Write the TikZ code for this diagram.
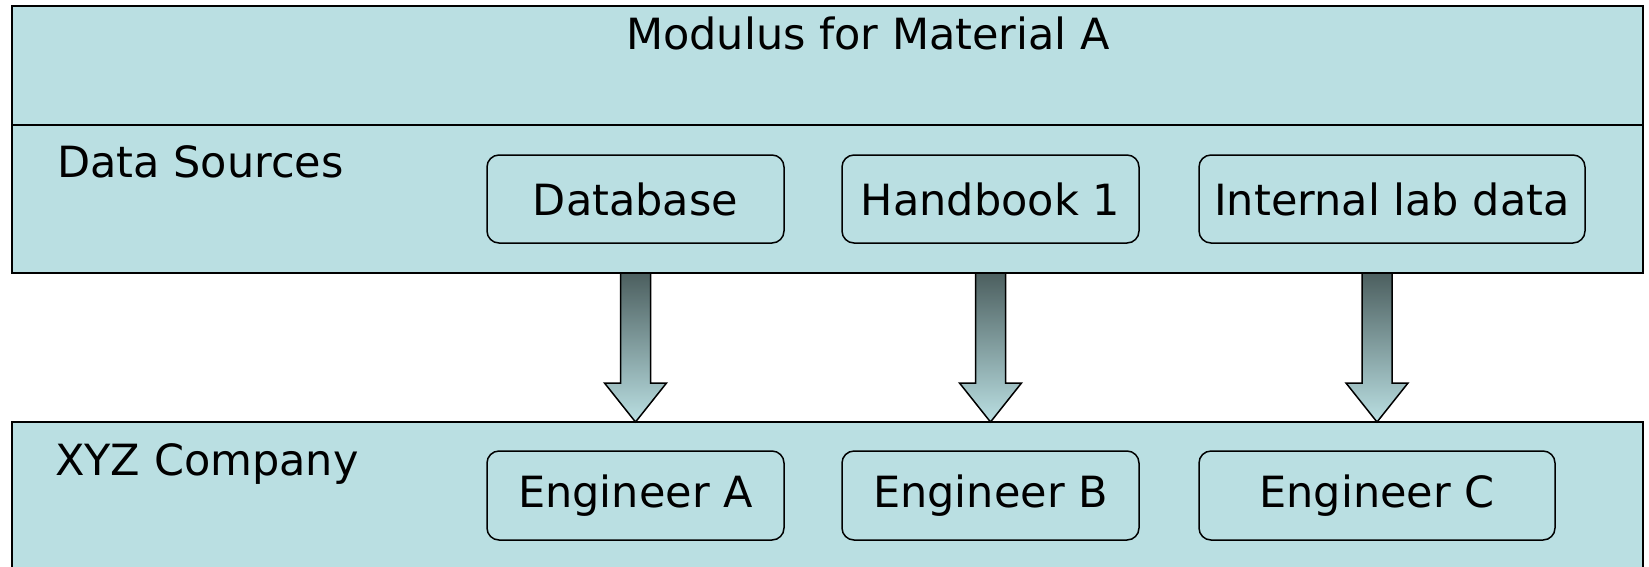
\documentclass[tikz,border=0pt]{standalone}
\usepackage{fontspec}
\setmainfont{DejaVu Sans}
\usetikzlibrary{calc}
\definecolor{panel}{HTML}{BADFE2}
\definecolor{shaftdark}{HTML}{4C5F5F}

\tikzset{
  panelbox/.style={fill=panel, draw=black, line width=2pt},
  divider/.style={draw=black, line width=1.5pt},
  itembox/.style={draw=black, fill=panel, line width=1.5pt, rounded corners=12pt,
    inner sep=0pt, font=\fontsize{43}{50}\selectfont},
  heading/.style={inner sep=0pt, anchor=base west, font=\fontsize{43}{50}\selectfont},
  title/.style={inner sep=0pt, anchor=base, font=\fontsize{43}{50}\selectfont},
  blockarrow/.style={draw=black, line width=1.5pt, top color=shaftdark, bottom color=panel}
}

% block arrow from a start coordinate straight down to a tip coordinate
\newcommand\flowarrow[2]{%
  \path[blockarrow]
    ($(#1)+(-15,0)$) -- ($(#2)+(-15,-39)$) -- ($(#2)+(-31,-39)$) -- (#2)
    -- ($(#2)+(31,-39)$) -- ($(#2)+(15,-39)$) -- ($(#1)+(15,0)$) -- cycle;}

\begin{document}
\begin{tikzpicture}[x=1pt, y=-1pt]
\useasboundingbox (0,0) rectangle (1649,566);
\fill[white] (0,0) rectangle (1649,566);

% upper panel: title band and data sources
\path[panelbox] (12,6) rectangle (1643,273);
\draw[divider] (12,125) -- (1643,125);
\node[title] (ttl) at (868,49) {Modulus for Material A};
\node[heading] (ds) at (57,177) {Data Sources};

% lower panel: company (runs off the bottom edge)
\fill[panel] (12,422) rectangle (1643,570);
\draw[line width=2pt] (12,570) -- (12,422) -- (1643,422) -- (1643,570);
\node[heading] (xyz) at (55,475) {XYZ Company};

% source boxes
\node[itembox, minimum width=297pt, minimum height=88pt] (db) at (635.5,199) {Database};
\node[itembox, minimum width=297pt, minimum height=88pt] (hb) at (990.5,199) {Handbook 1};
\node[itembox, minimum width=386pt, minimum height=88pt] (lab) at (1392,199) {Internal lab data};

% engineer boxes
\node[itembox, minimum width=297pt, minimum height=89pt] (ea) at (635.5,495.5) {Engineer A};
\node[itembox, minimum width=297pt, minimum height=89pt] (eb) at (990.5,495.5) {Engineer B};
\node[itembox, minimum width=356pt, minimum height=89pt] (ec) at (1377,495.5) {Engineer C};

% arrow ends on the panel edges
\coordinate (s1) at (db.south |- 0,273);
\coordinate (t1) at (ea.north |- 0,422);
\coordinate (s2) at (hb.south |- 0,273);
\coordinate (t2) at (eb.north |- 0,422);
\coordinate (s3) at (ec.north |- 0,273);
\coordinate (t3) at (ec.north |- 0,422);

\flowarrow{s1}{t1}
\flowarrow{s2}{t2}
\flowarrow{s3}{t3}
\end{tikzpicture}
\end{document}
